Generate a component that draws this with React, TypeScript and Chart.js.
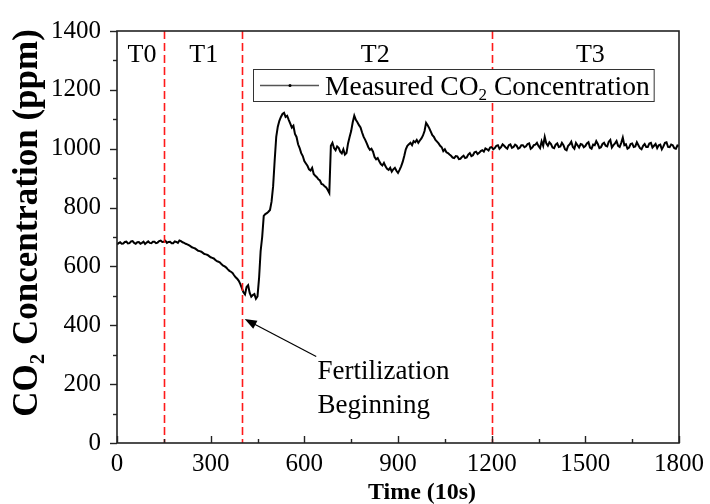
import React, { useEffect, useRef } from "react";
import { Chart, registerables } from "chart.js";

Chart.register(...registerables);

// Sampling interval of the measurement series (units of 10 s)
const SAMPLE_INTERVAL = 5;

// Measured CO2 concentration (ppm), one value per sample (0 .. 1800)
const CO2_PPM: number[] = [
  // 0-95
  675, 679, 682, 677, 678, 683, 684, 678, 679, 685, 686, 680, 677, 682, 683, 677, 680, 684, 676, 681,
  // 100-195
  685, 680, 679, 684, 684, 679, 681, 686, 688, 683, 684, 687, 680, 683, 684, 679, 679, 685, 683, 680,
  // 200-295
  688, 686, 682, 680, 677, 675, 672, 669, 665, 663, 661, 657, 653, 652, 650, 646, 642, 641, 639, 635,
  // 300-395
  631, 629, 627, 622, 618, 616, 613, 607, 603, 600, 596, 590, 585, 582, 578, 570, 563, 558, 551, 540,
  // 400-495
  526, 512, 505, 530, 536, 510, 497, 503, 506, 490, 498, 560, 652, 700, 772, 778, 781, 786, 792, 820,
  // 500-595
  872, 960, 1040, 1075, 1095, 1108, 1118, 1122, 1108, 1112, 1098, 1085, 1072, 1078, 1050, 1040, 1015, 1002, 985, 975,
  // 600-695
  958, 950, 942, 930, 926, 935, 914, 908, 903, 896, 892, 880, 878, 872, 868, 860, 850, 1010, 1020, 1002,
  // 700-795
  995, 1008, 1003, 990, 984, 998, 980, 985, 1018, 1040, 1060, 1090, 1112, 1098, 1090, 1080, 1072, 1055, 1040, 1030,
  // 800-895
  1018, 1005, 996, 1000, 990, 972, 964, 968, 957, 948, 943, 952, 940, 932, 928, 935, 922, 930, 935, 925,
  // 900-995
  918, 928, 940, 955, 975, 998, 1010, 1015, 1020, 1012, 1026, 1022, 1030, 1020, 1028, 1035, 1045, 1060, 1088, 1080,
  // 1000-1095
  1070, 1058, 1046, 1040, 1030, 1024, 1018, 1010, 1005, 992, 998, 988, 985, 980, 976, 970, 968, 975, 974, 965,
  // 1100-1195
  966, 972, 976, 968, 970, 980, 985, 975, 978, 988, 990, 982, 986, 992, 995, 990, 1001, 998, 994, 1004,
  // 1200-1295
  1006, 998, 1002, 1010, 1012, 1000, 1005, 1015, 1010, 1004, 1000, 1012, 1015, 1003, 1006, 1014, 1010, 1000, 1003, 1012,
  // 1300-1395
  1012, 1005, 1008, 1016, 1018, 1000, 1004, 1012, 1014, 1020, 1009, 1002, 1025, 1010, 1040, 1018, 1010, 1022, 1016, 1004,
  // 1400-1495
  1002, 1014, 1018, 1006, 1008, 1020, 1012, 998, 995, 1010, 1015, 1024, 1006, 1000, 1020, 1012, 1004, 1016, 1014, 1005,
  // 1500-1595
  1009, 1018, 1022, 1004, 1000, 1014, 1012, 1026, 1016, 1002, 1005, 1016, 1020, 1010, 1008, 1024, 1030, 1004, 1012, 1018,
  // 1600-1695
  1026, 1010, 1006, 1020, 1038, 1012, 1015, 1000, 1004, 1016, 1018, 1006, 1008, 1022, 1012, 1002, 998, 1010, 1016, 1006,
  // 1700-1795
  1006, 1018, 1020, 1004, 1010, 1016, 1002, 1012, 1014, 998, 1008, 1020, 1022, 1006, 1005, 1014, 1012, 1002, 1000, 1011,
  // 1800
  1010,
];

const X_MIN = 0;
const X_MAX = 1800;
const X_MAJOR_STEP = 300;
const X_MINOR_STEP = 150;
const Y_MIN = 0;
const Y_MAX = 1400;
const Y_MAJOR_STEP = 200;
const Y_MINOR_STEP = 100;

const PHASE_BOUNDARIES = [150, 400, 1200];
const PHASE_LABELS = ["T0", "T1", "T2", "T3"];

const SERIES_LABEL_MAIN = "Measured CO";
const SERIES_LABEL_SUB = "2";
const SERIES_LABEL_TAIL = " Concentration";
const X_TITLE = "Time (10s)";
const Y_TITLE = "CO\u2082 Concentration (ppm)";
const ANNOTATION_LINES = ["Fertilization", "Beginning"];

const FONT = "'Liberation Serif', 'Times New Roman', 'DejaVu Serif', serif";

const overlayPlugin = {
  id: "overlay",
  afterDatasetsDraw(chart: any) {
    const { ctx, chartArea: ca, scales } = chart;
    const x = scales.x;
    ctx.save();
    ctx.strokeStyle = "#ff1a1a";
    ctx.lineWidth = 1.6;
    ctx.setLineDash([8, 4]);
    for (const b of PHASE_BOUNDARIES) {
      const px = Math.round(x.getPixelForValue(b)) + 0.5;
      ctx.beginPath();
      ctx.moveTo(px, ca.top);
      ctx.lineTo(px, ca.bottom);
      ctx.stroke();
    }
    ctx.restore();
  },
  afterDraw(chart: any) {
    const { ctx, chartArea: ca, scales } = chart;
    const x = scales.x;
    const y = scales.y;
    ctx.save();
    ctx.setLineDash([]);

    // frame
    ctx.strokeStyle = "#222";
    ctx.lineWidth = 1.6;
    ctx.strokeRect(ca.left, ca.top, ca.right - ca.left, ca.bottom - ca.top);

    // y ticks (outward)
    ctx.lineWidth = 1.4;
    for (let v = Y_MIN; v <= Y_MAX; v += Y_MINOR_STEP) {
      const py = Math.round(y.getPixelForValue(v)) + 0.5;
      const len = v % Y_MAJOR_STEP === 0 ? 7 : 4;
      ctx.beginPath();
      ctx.moveTo(ca.left - len, py);
      ctx.lineTo(ca.left, py);
      ctx.stroke();
    }
    // x ticks (inward)
    for (let v = X_MIN; v <= X_MAX; v += X_MINOR_STEP) {
      const px = Math.round(x.getPixelForValue(v)) + 0.5;
      const len = v % X_MAJOR_STEP === 0 ? 7 : 4;
      ctx.beginPath();
      ctx.moveTo(px, ca.bottom);
      ctx.lineTo(px, ca.bottom - len);
      ctx.stroke();
    }

    // phase labels
    ctx.fillStyle = "#000";
    ctx.font = `26px ${FONT}`;
    ctx.textAlign = "center";
    ctx.textBaseline = "alphabetic";
    const phaseCenters = [80, 278, 827, 1516];
    PHASE_LABELS.forEach((t, i) => {
      ctx.fillText(t, x.getPixelForValue(phaseCenters[i]), 62);
    });

    // legend
    const lx = 253, ly = 69, lh = 32;
    ctx.font = `27.5px ${FONT}`;
    ctx.textAlign = "left";
    const textX = 325;
    const w1 = ctx.measureText(SERIES_LABEL_MAIN).width;
    ctx.font = `17px ${FONT}`;
    const w2 = ctx.measureText(SERIES_LABEL_SUB).width;
    ctx.font = `27.5px ${FONT}`;
    const w3 = ctx.measureText(SERIES_LABEL_TAIL).width;
    const endX = textX + w1 + w2 + w3;
    ctx.fillStyle = "#fff";
    ctx.fillRect(lx, ly, endX + 4 - lx, lh);
    ctx.strokeStyle = "#333";
    ctx.lineWidth = 1;
    ctx.strokeRect(lx + 0.5, ly + 0.5, endX + 4 - lx, lh);
    ctx.strokeStyle = "#555";
    ctx.lineWidth = 1.3;
    ctx.beginPath();
    ctx.moveTo(260, 85.5);
    ctx.lineTo(319, 85.5);
    ctx.stroke();
    ctx.fillStyle = "#000";
    ctx.beginPath();
    ctx.arc(290, 85.5, 1.5, 0, Math.PI * 2);
    ctx.fill();
    ctx.fillText(SERIES_LABEL_MAIN, textX, 95);
    ctx.font = `17px ${FONT}`;
    ctx.fillText(SERIES_LABEL_SUB, textX + w1, 100);
    ctx.font = `27.5px ${FONT}`;
    ctx.fillText(SERIES_LABEL_TAIL, textX + w1 + w2, 95);

    // annotation
    ctx.font = `27px ${FONT}`;
    ctx.textAlign = "left";
    ctx.fillText(ANNOTATION_LINES[0], x.getPixelForValue(642), y.getPixelForValue(217));
    ctx.fillText(ANNOTATION_LINES[1], x.getPixelForValue(642), y.getPixelForValue(103));
    const tx = x.getPixelForValue(638), ty = y.getPixelForValue(294);
    const hx = x.getPixelForValue(409), hy = y.getPixelForValue(421);
    const ang = Math.atan2(hy - ty, hx - tx);
    ctx.strokeStyle = "#000";
    ctx.lineWidth = 1.2;
    ctx.beginPath();
    ctx.moveTo(tx, ty);
    ctx.lineTo(hx - Math.cos(ang) * 8, hy - Math.sin(ang) * 8);
    ctx.stroke();
    ctx.beginPath();
    ctx.moveTo(hx, hy);
    ctx.lineTo(hx - Math.cos(ang) * 12 + Math.sin(ang) * 4.5, hy - Math.sin(ang) * 12 - Math.cos(ang) * 4.5);
    ctx.lineTo(hx - Math.cos(ang) * 12 - Math.sin(ang) * 4.5, hy - Math.sin(ang) * 12 + Math.cos(ang) * 4.5);
    ctx.closePath();
    ctx.fill();

    // axis titles
    ctx.font = `bold 24px ${FONT}`;
    ctx.textAlign = "center";
    ctx.textBaseline = "alphabetic";
    ctx.fillText(X_TITLE, 422, 499);

    ctx.translate(28, 223);
    ctx.rotate(-Math.PI / 2);
    ctx.font = `bold 35px ${FONT}`;
    ctx.textBaseline = "middle";
    ctx.fillText(Y_TITLE, 0, 0);

    ctx.restore();
  },
};

export default function App() {
  const canvasRef = useRef<HTMLCanvasElement | null>(null);

  useEffect(() => {
    document.body.style.margin = "0";
    const canvas = canvasRef.current;
    if (!canvas) return;
    const points = CO2_PPM.map((v, i) => ({ x: i * SAMPLE_INTERVAL, y: v }));
    const chart = new Chart(canvas, {
      type: "line",
      data: {
        datasets: [
          {
            label: SERIES_LABEL_MAIN + SERIES_LABEL_SUB + SERIES_LABEL_TAIL,
            data: points,
            borderColor: "#000",
            backgroundColor: "#000",
            borderWidth: 2,
            pointRadius: 0,
            tension: 0,
          },
        ],
      },
      options: {
        animation: false,
        responsive: true,
        maintainAspectRatio: false,
        layout: { padding: { left: 0, top: 25, right: 29, bottom: 0 } },
        plugins: {
          legend: { display: false },
          tooltip: { enabled: false },
          title: { display: false },
        },
        scales: {
          x: {
            type: "linear",
            min: X_MIN,
            max: X_MAX,
            grid: { display: false, drawTicks: false },
            border: { display: false },
            ticks: {
              stepSize: X_MAJOR_STEP,
              color: "#000",
              font: { family: FONT, size: 25 },
              padding: 6,
              maxRotation: 0,
              autoSkip: false,
              callback: (v: any) => String(v),
            },
            afterFit: (s: any) => {
              s.height = 61;
            },
          },
          y: {
            type: "linear",
            min: Y_MIN,
            max: Y_MAX,
            grid: { display: false, drawTicks: false },
            border: { display: false },
            ticks: {
              stepSize: Y_MAJOR_STEP,
              color: "#000",
              font: { family: FONT, size: 25 },
              padding: 16,
              callback: (v: any) => String(v),
            },
            afterFit: (s: any) => {
              s.width = 117;
            },
          },
        },
      },
      plugins: [overlayPlugin],
    });
    return () => chart.destroy();
  }, []);

  return (
    <div style={{ width: 710, height: 504, position: "relative" }}>
      <canvas ref={canvasRef} />
    </div>
  );
}
